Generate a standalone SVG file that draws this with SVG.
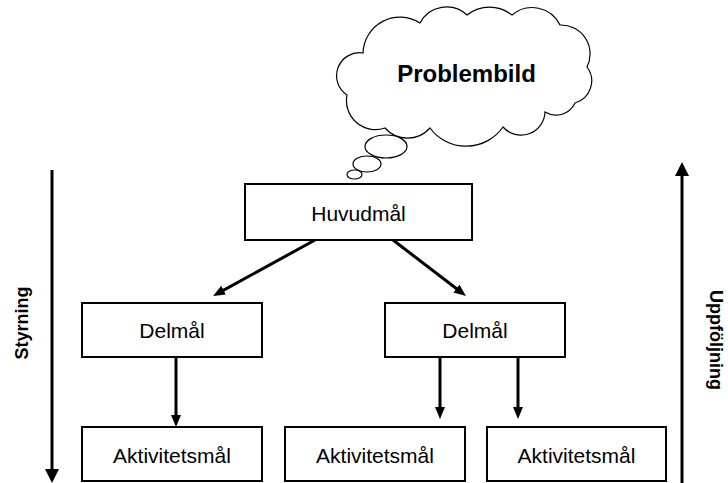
<svg xmlns="http://www.w3.org/2000/svg" width="728" height="483" viewBox="0 0 728 483">
<style>
.box{fill:#fff;stroke:#000;stroke-width:2}
.lbl{font-family:"Liberation Sans",Arial,sans-serif;font-size:21px;fill:#000;text-anchor:middle}
.bold{font-family:"Liberation Sans",Arial,sans-serif;font-weight:bold;fill:#000;text-anchor:middle}
.arr{stroke:#000;stroke-width:3;fill:none;marker-end:url(#ah)}
.big{stroke:#000;stroke-width:3;fill:none;marker-end:url(#ahb)}
.cloud{fill:#fff;stroke:#000;stroke-width:1.2}
</style>
<defs>
<marker id="ah" markerUnits="userSpaceOnUse" markerWidth="12" markerHeight="10" refX="6" refY="5" orient="auto"><path d="M0,0 L12,5 L0,10 Z" fill="#000"/></marker>
<marker id="ahb" markerUnits="userSpaceOnUse" markerWidth="14" markerHeight="14" refX="7" refY="7" orient="auto"><path d="M0,0 L14,7 L0,14 Z" fill="#000"/></marker>
</defs>
<rect width="728" height="483" fill="#fff"/>
<g id="cloud">
<path class="cloud" d="M363,53 A37,37 0 0 1 420,23 A30,30 0 0 1 467,15 A36,36 0 0 1 512,15 A31,31 0 0 1 560,25 A29,29 0 0 1 587,67 A23,23 0 0 1 575,103 A21,21 0 0 1 545,112 A24,24 0 0 1 503,127 A45,45 0 0 1 430,128 A30,30 0 0 1 385,128 A29,29 0 0 1 347,95 A23,23 0 0 1 363,53 Z"/>
<ellipse class="cloud" cx="386" cy="146.5" rx="21" ry="11.5"/>
<ellipse class="cloud" cx="367" cy="164" rx="14" ry="8"/>
<ellipse class="cloud" cx="354.5" cy="174.5" rx="7.5" ry="4.5"/>
<text class="bold" x="466.5" y="82" font-size="24">Problembild</text>
</g>
<g id="connectors">
<line class="arr" x1="315" y1="240" x2="218.3" y2="293.1"/>
<line class="arr" x1="393" y1="240" x2="461.2" y2="292.3"/>
<line class="arr" x1="176" y1="357" x2="176" y2="421"/>
<line class="arr" x1="440" y1="357" x2="440" y2="413"/>
<line class="arr" x1="518" y1="357" x2="518" y2="413"/>
<line class="big" x1="52" y1="170" x2="52" y2="476"/>
<line class="big" x1="682" y1="483" x2="682" y2="169"/>
</g>
<g id="huvudmal"><rect class="box" x="245" y="184" width="227" height="56"/><text class="lbl" x="358.5" y="221">Huvudmål</text></g>
<g id="delmal1"><rect class="box" x="82" y="303" width="180" height="54"/><text class="lbl" x="172" y="338">Delmål</text></g>
<g id="delmal2"><rect class="box" x="385" y="303" width="180" height="54"/><text class="lbl" x="475" y="338">Delmål</text></g>
<g id="akt1"><rect class="box" x="82" y="427" width="180" height="54"/><text class="lbl" x="172" y="463">Aktivitetsmål</text></g>
<g id="akt2"><rect class="box" x="285" y="427" width="180" height="54"/><text class="lbl" x="375" y="463">Aktivitetsmål</text></g>
<g id="akt3"><rect class="box" x="487" y="427" width="179" height="54"/><text class="lbl" x="576.5" y="463">Aktivitetsmål</text></g>
<g id="styrning"><text class="bold" font-size="18" x="323" y="28" transform="rotate(-90 0 0) translate(-646 0)">Styrning</text></g>
<g id="uppfoljning"><text class="bold" font-size="18" transform="translate(710 340) rotate(90)">Uppföljning</text></g>
</svg>
